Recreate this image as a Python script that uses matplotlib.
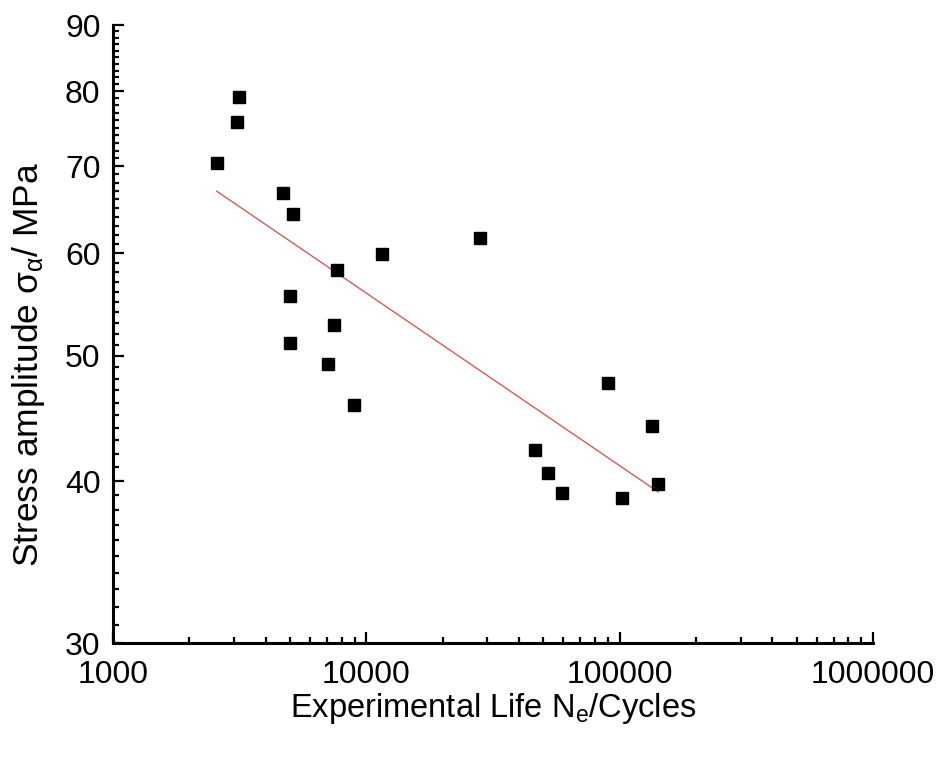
import numpy as np
import matplotlib
matplotlib.use("Agg")
import matplotlib.pyplot as plt
from matplotlib.ticker import FixedLocator, NullFormatter

life_cycles = [2567, 3079, 3152, 4702, 5150, 4998, 4998, 7640, 7457, 7079,
               8941, 11502, 28110, 46350, 52300, 59390, 90240, 101900,
               134600, 142200]
stress_amp = [70.4, 75.7, 79.2, 66.8, 64.3, 55.6, 51.1, 58.2, 52.8, 49.3,
              45.8, 59.9, 61.6, 42.3, 40.6, 39.2, 47.6, 38.8, 44.1, 39.8]

x_ticks = [1000, 10000, 100000, 1000000]
x_ticklabels = ["1000", "10000", "100000", "1000000"]
y_ticks = [30, 40, 50, 60, 70, 80, 90]

plt.rcParams["font.family"] = ["Liberation Sans", "DejaVu Sans"]
plt.rcParams["mathtext.fontset"] = "custom"
plt.rcParams["mathtext.rm"] = "Liberation Sans"
plt.rcParams["mathtext.it"] = "Liberation Sans"

fig = plt.figure(figsize=(9.38, 7.58), dpi=100)
ax = fig.add_axes([113 / 938, 1 - 643 / 758, (873 - 113) / 938, (643 - 25) / 758])

ax.plot(life_cycles, stress_amp, linestyle="none", marker="s",
        markersize=9, color="black", zorder=3)

# power-law fit (linear in log-log space)
lx = np.log10(life_cycles)
ly = np.log10(stress_amp)
slope, intercept = np.polyfit(lx, ly, 1)
fit_x = np.array([min(life_cycles), max(life_cycles)])
fit_y = 10 ** (intercept + slope * np.log10(fit_x))
ax.plot(fit_x, fit_y, color="#d65a5a", linewidth=1.0, zorder=2)

ax.set_xscale("log")
ax.set_yscale("log")
ax.set_xlim(1000, 1000000)
ax.set_ylim(30, 90)

ax.xaxis.set_major_locator(FixedLocator(x_ticks))
ax.set_xticklabels(x_ticklabels)
ax.xaxis.set_minor_locator(FixedLocator(
    [m * 10 ** d for d in range(3, 6) for m in range(2, 10)]))
ax.xaxis.set_minor_formatter(NullFormatter())

ax.yaxis.set_major_locator(FixedLocator(y_ticks))
ax.set_yticklabels([str(v) for v in y_ticks])
ax.yaxis.set_minor_locator(FixedLocator(
    [v for v in range(31, 90) if v % 10 != 0]))
ax.yaxis.set_minor_formatter(NullFormatter())

for side in ["top", "right"]:
    ax.spines[side].set_visible(False)
for side in ["left", "bottom"]:
    ax.spines[side].set_linewidth(2.2)

ax.tick_params(which="major", direction="in", length=8, width=1.6,
               labelsize=23)
ax.tick_params(which="minor", direction="in", length=4, width=1.6)
ax.tick_params(axis="x", which="major", pad=12)
ax.tick_params(axis="y", which="major", pad=9)

ax.set_xlabel(r"Experimental Life N$_\mathregular{e}$/Cycles", fontsize=23.5)
ax.set_ylabel(r"Stress amplitude σ$_\mathregular{α}$/ MPa", fontsize=25.5)
ax.xaxis.set_label_coords(0.5, -0.077)
ax.yaxis.set_label_coords(-0.087, 0.45)

fig.savefig("out.png", dpi=100)
